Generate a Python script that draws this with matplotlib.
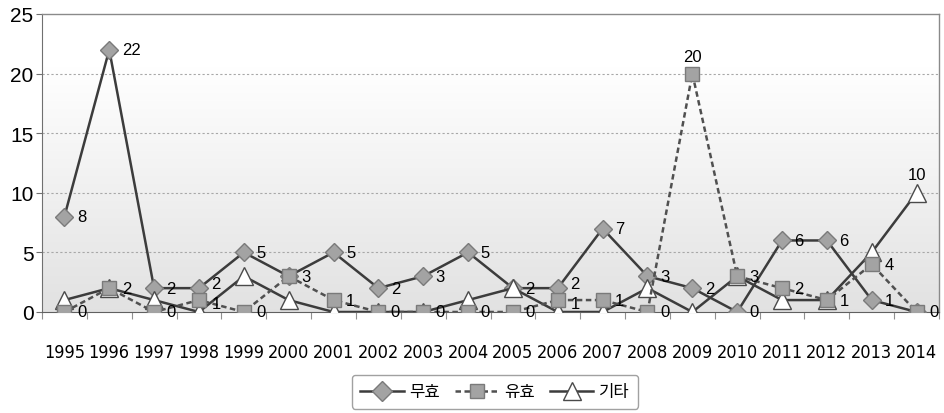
import numpy as np
import matplotlib
matplotlib.use("Agg")
import matplotlib.pyplot as plt
from matplotlib.lines import Line2D
from matplotlib import font_manager as fm

years = ["1995", "1996", "1997", "1998", "1999", "2000", "2001", "2002", "2003", "2004",
         "2005", "2006", "2007", "2008", "2009", "2010", "2011", "2012", "2013", "2014"]
muhyo = [8, 22, 2, 2, 5, 3, 5, 2, 3, 5, 2, 2, 7, 3, 2, 0, 6, 6, 1, 0]
yuhyo = [0, 2, 0, 1, 0, 3, 1, 0, 0, 0, 0, 1, 1, 0, 20, 3, 2, 1, 4, 0]
gita = [1, 2, 1, 0, 3, 1, 0, 0, 0, 1, 2, 0, 0, 2, 0, 3, 1, 1, 5, 10]
series_names = ["무효", "유효", "기타"]
y_ticks = [0, 5, 10, 15, 20, 25]

NUM_FONT = ["Liberation Sans", "DejaVu Sans"]
KR_FONT = ["Noto Sans CJK KR", "DejaVu Sans"]

narrow_fp = None
for f in fm.fontManager.ttflist:
    nm = f.name.lower()
    if ("narrow" in nm or "condensed" in nm or str(f.stretch).lower() in ("condensed", "semi-condensed")) \
            and f.weight in ("normal", 400, "regular") and f.style == "normal":
        if "mono" in nm or ("serif" in nm and "sans" not in nm):
            continue
        narrow_fp = fm.FontProperties(fname=f.fname, size=13)
        break
if narrow_fp is None:
    narrow_fp = fm.FontProperties(family=NUM_FONT, size=11.5)

fig = plt.figure(figsize=(9.45, 4.14), dpi=100)
ax = fig.add_axes([0.0444, 0.244, 0.9493, 0.7198])

x = np.arange(len(years))
ax.set_xlim(-0.5, len(years) - 0.5)
ax.set_ylim(0, 25)

top_c = np.array([1.0, 1.0, 1.0])
bot_c = np.array([0.885, 0.885, 0.885])
t = np.clip(np.linspace(0, 1, 256) / 0.82, 0, 1)
img_rgb = np.zeros((256, 1, 3))
for k in range(3):
    img_rgb[:, 0, k] = bot_c[k] + (top_c[k] - bot_c[k]) * t
ax.imshow(img_rgb, extent=[0, 1, 0, 1], transform=ax.transAxes, aspect="auto",
          origin="lower", zorder=0)

for yv in [5, 10, 15, 20]:
    ax.axhline(yv, color="#a8a8a8", linestyle=(0, (2, 2)), linewidth=0.8, zorder=1)

line_col = "#3c3c3c"
ax.plot(x, muhyo, color=line_col, linewidth=1.8, marker="D", markersize=9.5,
        markerfacecolor="#a3a3a3", markeredgecolor="#7a7a7a", markeredgewidth=1.0, zorder=3)
ax.plot(x, gita, color=line_col, linewidth=1.8, marker="^", markersize=13,
        markerfacecolor="white", markeredgecolor="#4a4a4a", markeredgewidth=1.0, zorder=4)
ax.plot(x, yuhyo, color="#505050", linewidth=1.8, linestyle=(0, (2.2, 1.4)), marker="s",
        markersize=10, markerfacecolor="#a3a3a3", markeredgecolor="#7a7a7a",
        markeredgewidth=1.0, zorder=5)

lab_kw = dict(fontsize=12, family=NUM_FONT, color="black", zorder=6)
for i, v in enumerate(muhyo):
    if yuhyo[i] == v:
        continue
    dy = 3 if v - yuhyo[i] == 1 else 0
    ax.annotate(str(v), (x[i], v), xytext=(9, dy), textcoords="offset points",
                ha="left", va="center", **lab_kw)
for i, v in enumerate(yuhyo):
    if v == 20:
        ax.annotate(str(v), (x[i], v), xytext=(0, 7), textcoords="offset points",
                    ha="center", va="bottom", **lab_kw)
    else:
        dy = -2.5 if muhyo[i] - v == 1 else 0
        ax.annotate(str(v), (x[i], v), xytext=(9, dy), textcoords="offset points",
                    ha="left", va="center", **lab_kw)
ax.annotate(str(gita[-1]), (x[-1], gita[-1]), xytext=(0, 8), textcoords="offset points",
            ha="center", va="bottom", **lab_kw)

for s in ["top", "right"]:
    ax.spines[s].set_color("#8a8a8a")
    ax.spines[s].set_linewidth(1.0)
ax.spines["left"].set_color("#707070")
ax.spines["bottom"].set_color("#606060")

ax.set_yticks(y_ticks)
ax.set_yticklabels([str(v) for v in y_ticks], fontsize=15, family=NUM_FONT)
ax.tick_params(axis="y", length=4, width=0.8, color="#707070", pad=2)

ax.set_xticks(x)
ax.set_xticklabels(years, fontproperties=narrow_fp)
ax.tick_params(axis="x", which="major", length=0, pad=22)
ax.set_xticks(np.arange(-0.5, len(years), 1.0), minor=True)
ax.tick_params(axis="x", which="minor", length=5, width=0.8, color="#909090")

handles = [
    Line2D([], [], color=line_col, linewidth=1.8, marker="D", markersize=10,
           markerfacecolor="#a3a3a3", markeredgecolor="#7a7a7a"),
    Line2D([], [], color="#505050", linewidth=1.8, linestyle=(0, (2.2, 1.4)), marker="s",
           markersize=10.5, markerfacecolor="#a3a3a3", markeredgecolor="#7a7a7a"),
    Line2D([], [], color=line_col, linewidth=1.8, marker="^", markersize=13.5,
           markerfacecolor="white", markeredgecolor="#4a4a4a"),
]
leg = fig.legend(handles, series_names, loc="center", bbox_to_anchor=(0.524, 0.051),
                 ncol=3, frameon=True, fancybox=True, edgecolor="#8a8a8a",
                 prop={"family": KR_FONT, "size": 12}, handlelength=2.6,
                 handletextpad=0.35, columnspacing=0.9, borderpad=0.5)
leg.get_frame().set_linewidth(1.0)

fig.savefig("out.png", dpi=100)
